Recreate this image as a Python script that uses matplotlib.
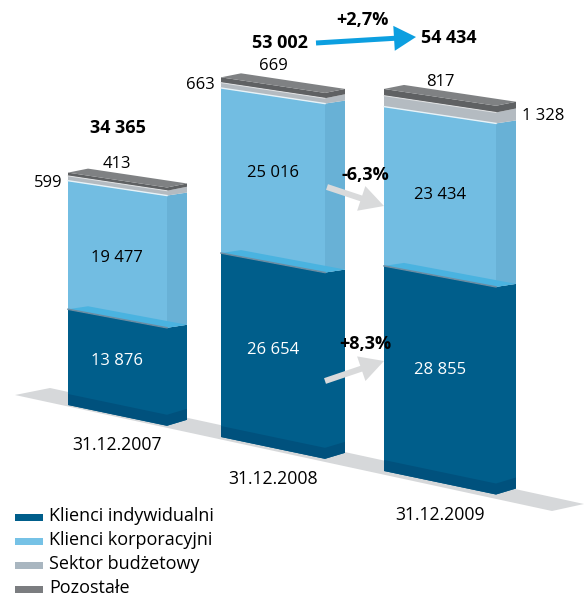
#!/usr/bin/env python3
"""Stacked pseudo-3D columns: clients' deposits at year end, 2007-2009."""
import matplotlib
matplotlib.use("Agg")
import matplotlib.pyplot as plt
from matplotlib.patches import FancyArrow, Polygon, Rectangle

dates = ["31.12.2007", "31.12.2008", "31.12.2009"]
individual = [13876, 26654, 28855]
corporate = [19477, 25016, 23434]
budget = [599, 663, 1328]
other = [413, 669, 817]
series_names = ["Klienci indywidualni", "Klienci korporacyjni", "Sektor budżetowy", "Pozostałe"]
total_change = "+2,7%"
corporate_change = "-6,3%"
individual_change = "+8,3%"

DARK = "#005e8b"
DARK_BAND = "#00517d"
LIGHT = "#72bde2"
LIGHT_SIDE = "#68b1d6"
TEAL = "#4ab3e0"
GREY = "#b4bbc1"
GREY_DARK = "#5f6163"
LID = "#7f8183"
GROUND = "#d6d8da"
BLUE_ARROW = "#0c9fe0"
GREY_ARROW = "#d9dadb"
FONT = "Open Sans"

# column geometry, in pixels of the 584x598 picture
LEFT = [68, 221, 384]
WIDTH = [99, 104, 112]
DEPTH = 20
BASE = [405, 437, 471]
PERSPECTIVE = [1.0, 1.0, 1.03]
PX_PER_UNIT = [0.0069, 0.0066, 0.008, 0.008]  # per series, the source isn't to scale
SLOPE = [0.21, 0.187, 0.15, 0.15, 0.15]  # front edge slope at each stack level
RISE = [6, 3, 3, 4, 4]  # how far the depth edge climbs at each stack level


def fmt(v):
    return f"{v:,}".replace(",", " ")


def level_heights(i):
    values = [individual[i], corporate[i], budget[i], other[i]]
    levels = [BASE[i]]
    for v, k in zip(values, PX_PER_UNIT):
        levels.append(levels[-1] - v * k * PERSPECTIVE[i])
    return levels


def draw_segment(ax, i, lo, hi, front, side):
    x0 = LEFT[i]
    x1 = x0 + WIDTH[i]
    y = level_heights(i)
    y_lo_r = y[lo] + SLOPE[lo] * WIDTH[i]
    y_hi_r = y[hi] + SLOPE[hi] * WIDTH[i]
    ax.add_patch(Polygon([(x0, y[lo]), (x1, y_lo_r), (x1, y_hi_r), (x0, y[hi])],
                         facecolor=front, edgecolor="none", zorder=3))
    ax.add_patch(Polygon([(x1, y_lo_r), (x1 + DEPTH, y_lo_r - RISE[lo]),
                          (x1 + DEPTH, y_hi_r - RISE[hi]), (x1, y_hi_r)],
                         facecolor=side, edgecolor="none", zorder=3))


def draw_column(ax, i):
    x0 = LEFT[i]
    w = WIDTH[i]
    x1 = x0 + w
    y = level_heights(i)
    draw_segment(ax, i, 0, 1, DARK, DARK)
    draw_segment(ax, i, 1, 2, LIGHT, LIGHT_SIDE)
    draw_segment(ax, i, 2, 3, GREY, GREY)
    draw_segment(ax, i, 3, 4, GREY_DARK, GREY_DARK)

    # darker strip along the foot
    band = 11
    ax.add_patch(Polygon([(x0, y[0]), (x1, y[0] + SLOPE[0] * w), (x1 + DEPTH, y[0] + SLOPE[0] * w - RISE[0]),
                          (x1 + DEPTH, y[0] + SLOPE[0] * w - RISE[0] - band), (x1, y[0] + SLOPE[0] * w - band),
                          (x0, y[0] - band)], facecolor=DARK_BAND, edgecolor="none", zorder=4))

    # top of the dark block seen through the light one
    yd = y[1]
    ydr = yd + SLOPE[1] * w
    ax.add_patch(Polygon([(x0, yd), (x0 + DEPTH, yd - 3), (x1 + DEPTH, ydr - RISE[1]), (x1, ydr)],
                         facecolor=TEAL, edgecolor="none", zorder=4))
    ax.plot([x0, x1], [yd, ydr], color="#6c8da3", lw=1.1, zorder=5)

    # pale edge under the grey bands
    yb = y[2]
    ax.plot([x0, x1], [yb, yb + SLOPE[2] * w], color="#e8f3f8", lw=1.0, zorder=5)
    ax.plot([x0, x1], [y[3], y[3] + SLOPE[3] * w], color="#e2e4e6", lw=0.7, zorder=5)

    # lid
    yt = y[4]
    ytr = yt + SLOPE[4] * w
    ax.add_patch(Polygon([(x0, yt), (x0 + DEPTH, yt - RISE[4]), (x1 + DEPTH, ytr - RISE[4]), (x1, ytr)],
                         facecolor=LID, edgecolor="none", zorder=5))


def label(ax, x, y, s, color="black", weight="normal", size=12, ha="center"):
    ax.text(x, y, s, color=color, fontweight=weight, fontsize=size, ha=ha, va="center",
            family=FONT, zorder=8)


def main():
    fig = plt.figure(figsize=(5.84, 5.98), dpi=100)
    ax = fig.add_axes([0, 0, 1, 1])
    ax.set_xlim(0, 584)
    ax.set_ylim(598, 0)
    ax.set_axis_off()

    ax.add_patch(Polygon([(15, 395), (50, 388), (584, 504), (552, 511)],
                         facecolor=GROUND, edgecolor="none", zorder=1))

    for i in range(len(dates)):
        draw_column(ax, i)

    # value labels
    total_xy = [(118, 128), (280, 43), (449, 38)]
    other_xy = [(117, 164), (273, 66), (440, 82)]
    budget_xy = [(48, 183), (200, 85), (543, 116)]
    corp_y = [258, 173, 195]
    ind_y = [361, 350, 370]
    date_y = [445, 479, 515]
    centers = [117, 273, 440]
    for i in range(len(dates)):
        total = individual[i] + corporate[i] + budget[i] + other[i]
        label(ax, *total_xy[i], fmt(total), weight="bold", size=13)
        label(ax, *other_xy[i], fmt(other[i]))
        label(ax, *budget_xy[i], fmt(budget[i]))
        label(ax, centers[i], corp_y[i], fmt(corporate[i]))
        label(ax, centers[i], ind_y[i], fmt(individual[i]), color="white")
        label(ax, centers[i], date_y[i], dates[i], size=12.7)

    # change arrows
    ax.add_patch(FancyArrow(316, 43, 100, -6, width=5, head_width=25, head_length=22,
                            length_includes_head=True, facecolor=BLUE_ARROW, edgecolor="none", zorder=7))
    ax.add_patch(FancyArrow(327, 187, 57, 19, width=6, head_width=26, head_length=24,
                            length_includes_head=True, facecolor=GREY_ARROW, edgecolor="none", zorder=7))
    ax.add_patch(FancyArrow(325, 381, 59, -20, width=6, head_width=26, head_length=24,
                            length_includes_head=True, facecolor=GREY_ARROW, edgecolor="none", zorder=7))
    label(ax, 362, 20, total_change, weight="bold", size=13)
    label(ax, 365, 175, corporate_change, weight="bold", size=13)
    label(ax, 365, 344, individual_change, weight="bold", size=13)

    # legend
    swatches = [DARK, "#76c2e6", "#a9b6c0", "#7b7d80"]
    legend_y = [517, 541, 565, 589]
    for name, color, y in zip(series_names, swatches, legend_y):
        ax.add_patch(Rectangle((15, y - 3.5), 28, 7, facecolor=color, edgecolor="none"))
        label(ax, 49, y - 1, name, size=13, ha="left")

    fig.savefig("out.png", dpi=100, facecolor="white")
    plt.close(fig)
    return 0


if __name__ == "__main__":
    raise SystemExit(main())
